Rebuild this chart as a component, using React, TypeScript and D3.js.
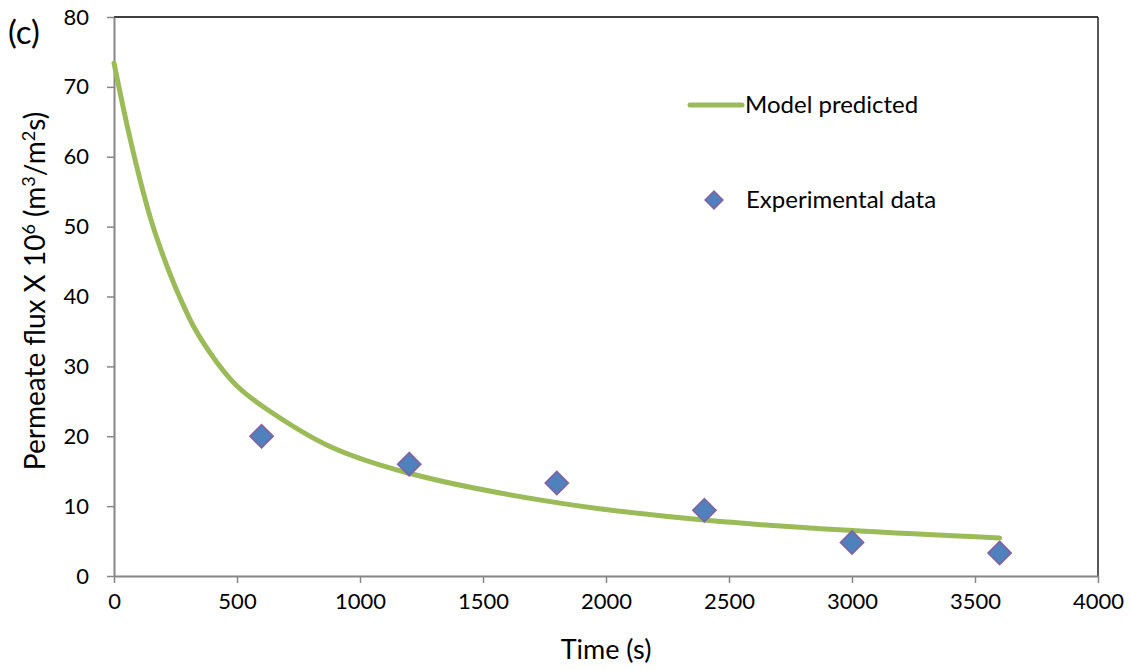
import React, { useRef, useEffect } from 'react';
import { select, scaleLinear, line, curveCatmullRom, axisBottom, axisLeft, symbol, symbolDiamond } from 'd3';

// model curve (time in s, flux x 1e6)
const modelTime = [0, 50, 100, 150, 200, 250, 330, 420, 500, 620, 880, 1200, 1800, 2400, 3000, 3600];
const modelFlux = [73.4, 65.0, 57.5, 51.0, 45.8, 41.3, 35.3, 30.5, 27.2, 23.9, 18.5, 14.7, 10.5, 8.0, 6.5, 5.45];

// experimental points
const expTime = [600, 1200, 1800, 2400, 3000, 3600];
const expFlux = [20.0, 16.0, 13.3, 9.4, 4.8, 3.3];

const xTicks = [0, 500, 1000, 1500, 2000, 2500, 3000, 3500, 4000];
const yTicks = [0, 10, 20, 30, 40, 50, 60, 70, 80];

const WIDTH = 1131;
const HEIGHT = 670;
const FONT = 'Lato, "Open Sans", sans-serif';
const GREEN = '#9BBB59';
const BLUE = '#4F81BD';
const PURPLE = '#8064A2';

const App = () => {
  const svgRef = useRef<SVGSVGElement>(null);

  useEffect(() => {
    const svg = select(svgRef.current);
    svg.selectAll('*').remove();

    const left = 114;
    const right = 1098;
    const top = 17;
    const bottom = 576;

    const xScale = scaleLinear().domain([0, 4000]).range([left, right]);
    const yScale = scaleLinear().domain([0, 80]).range([bottom, top]);

    // top + right frame
    svg.append('line')
      .attr('x1', left).attr('x2', right).attr('y1', top).attr('y2', top)
      .attr('stroke', '#000').attr('stroke-width', 1.3);
    svg.append('line')
      .attr('x1', right).attr('x2', right).attr('y1', top).attr('y2', bottom)
      .attr('stroke', '#000').attr('stroke-width', 1.3);

    // axes
    const xAxis = axisBottom(xScale).tickValues(xTicks).tickFormat(d => String(d))
      .tickSize(7).tickSizeOuter(0).tickPadding(10);
    const gx = svg.append('g')
      .attr('transform', `translate(0, ${bottom})`)
      .call(xAxis);
    const yAxis = axisLeft(yScale).tickValues(yTicks).tickFormat(d => String(d))
      .tickSize(7).tickSizeOuter(0).tickPadding(18);
    const gy = svg.append('g')
      .attr('transform', `translate(${left}, 0)`)
      .call(yAxis);

    [gx, gy].forEach(g => {
      g.select('.domain').attr('stroke', '#868686').attr('stroke-width', 2);
      g.selectAll('.tick line').attr('stroke', '#868686').attr('stroke-width', 1.5);
      g.selectAll('.tick text')
        .attr('fill', '#000')
        .style('font-family', FONT)
        .style('font-size', '22px');
    });

    // model line
    const lineGenerator = line<number>()
      .x((d, i) => xScale(modelTime[i]))
      .y(d => yScale(d))
      .curve(curveCatmullRom.alpha(0.5));

    svg.append('path')
      .datum(modelFlux)
      .attr('d', lineGenerator)
      .attr('fill', 'none')
      .attr('stroke', GREEN)
      .attr('stroke-width', 5)
      .attr('stroke-linecap', 'round');

    // experimental diamonds
    const diamond = symbol().type(symbolDiamond).size(190);
    svg.append('g')
      .selectAll('path')
      .data(expFlux)
      .join('path')
      .attr('d', diamond)
      .attr('transform', (d, i) => `translate(${xScale(expTime[i])}, ${yScale(d)}) scale(1.55, 0.9)`)
      .attr('fill', BLUE)
      .attr('stroke', PURPLE)
      .attr('stroke-width', 1.4);

    // legend
    svg.append('line')
      .attr('x1', 690).attr('x2', 742).attr('y1', 105).attr('y2', 105)
      .attr('stroke', GREEN).attr('stroke-width', 5).attr('stroke-linecap', 'round');
    svg.append('text')
      .attr('x', 745).attr('y', 113)
      .style('font-family', FONT).style('font-size', '24px')
      .text('Model predicted');
    svg.append('path')
      .attr('d', symbol().type(symbolDiamond).size(110))
      .attr('transform', 'translate(714, 200) scale(1.55, 0.9)')
      .attr('fill', BLUE).attr('stroke', PURPLE).attr('stroke-width', 1.4);
    svg.append('text')
      .attr('x', 746).attr('y', 208)
      .style('font-family', FONT).style('font-size', '24px')
      .text('Experimental data');

    // panel label
    svg.append('text')
      .attr('x', 8).attr('y', 44)
      .style('font-family', FONT).style('font-size', '33px')
      .text('(c)');

    // axis titles
    svg.append('text')
      .attr('x', 606).attr('y', 659)
      .attr('text-anchor', 'middle')
      .style('font-family', FONT).style('font-size', '27px')
      .text('Time (s)');

    const yTitle = svg.append('text')
      .attr('transform', 'translate(45, 291) rotate(-90)')
      .attr('text-anchor', 'middle')
      .style('font-family', FONT).style('font-size', '28px');
    yTitle.append('tspan').text('Permeate flux X 10');
    yTitle.append('tspan').attr('dy', -10).style('font-size', '18px').text('6');
    yTitle.append('tspan').attr('dy', 10).text(' (m');
    yTitle.append('tspan').attr('dy', -10).style('font-size', '18px').text('3');
    yTitle.append('tspan').attr('dy', 10).text('/m');
    yTitle.append('tspan').attr('dy', -10).style('font-size', '18px').text('2');
    yTitle.append('tspan').attr('dy', 10).text('s)');
  }, []);

  return (
    <div style={{ position: 'absolute', left: 0, top: 0, background: '#fff' }}>
      <svg ref={svgRef} width={WIDTH} height={HEIGHT} style={{ display: 'block' }} />
    </div>
  );
};

export default App;
